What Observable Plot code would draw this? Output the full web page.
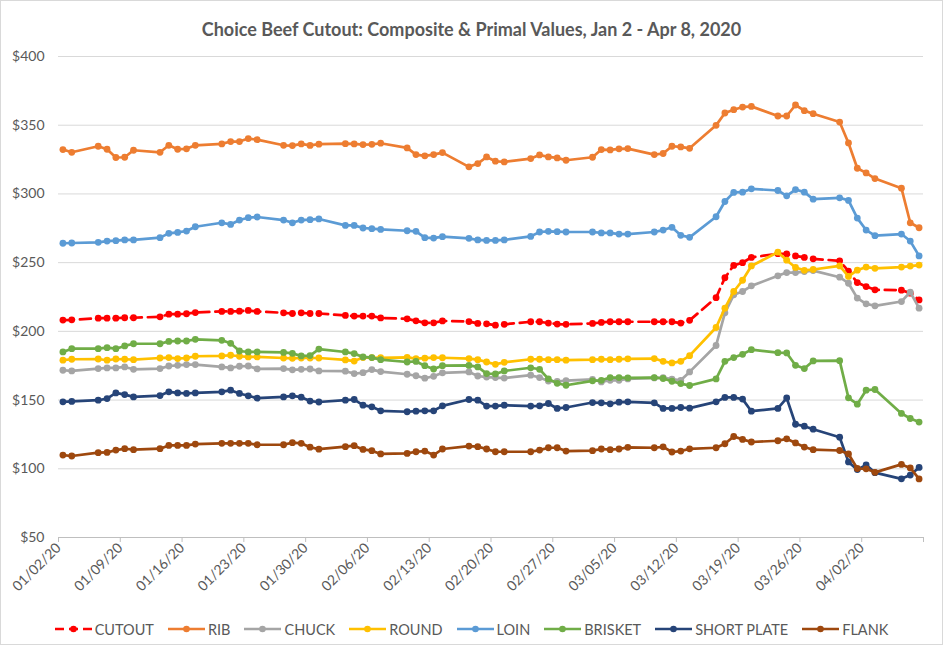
<!DOCTYPE html>
<html>
<head>
<meta charset="utf-8">
<script src="https://cdn.jsdelivr.net/npm/d3@7"></script>
<script src="https://cdn.jsdelivr.net/npm/@observablehq/plot@0.6"></script>
<style>
  html, body { margin: 0; padding: 0; background: #fff; }
  #chart { position: relative; width: 943px; height: 645px; box-sizing: border-box; border: 1px solid #d9d9d9; overflow: hidden; font-family: Lato, "Open Sans", sans-serif; color: #595959; }
  #title { height: 44px; box-sizing: border-box; padding-top: 17px; line-height: 22px; text-align: center; font-size: 18px; font-weight: 700; color: #595959; }
  #plot svg { display: block; }
  #legend { height: 44px; box-sizing: border-box; padding-top: 14px; display: flex; justify-content: center; align-items: center; gap: 0; font-size: 14.5px; color: #595959; }
  .item { display: flex; align-items: center; margin: 0 7px; }
  .item svg { margin-right: 3px; }
</style>
</head>
<body>
<div id="chart">
  <div id="title">Choice Beef Cutout: Composite &amp; Primal Values, Jan 2 - Apr 8, 2020</div>
  <div id="plot"></div>
  <div id="legend"></div>
</div>
<script>
// ---- data ----
const dates = [
  "2020-01-02","2020-01-03","2020-01-06","2020-01-07","2020-01-08","2020-01-09","2020-01-10",
  "2020-01-13","2020-01-14","2020-01-15","2020-01-16","2020-01-17","2020-01-20","2020-01-21",
  "2020-01-22","2020-01-23","2020-01-24","2020-01-27","2020-01-28","2020-01-29","2020-01-30","2020-01-31",
  "2020-02-03","2020-02-04","2020-02-05","2020-02-06","2020-02-07","2020-02-10","2020-02-11",
  "2020-02-12","2020-02-13","2020-02-14","2020-02-17","2020-02-18","2020-02-19","2020-02-20",
  "2020-02-21","2020-02-24","2020-02-25","2020-02-26","2020-02-27","2020-02-28",
  "2020-03-02","2020-03-03","2020-03-04","2020-03-05","2020-03-06","2020-03-09","2020-03-10",
  "2020-03-11","2020-03-12","2020-03-13","2020-03-16","2020-03-17","2020-03-18","2020-03-19",
  "2020-03-20","2020-03-23","2020-03-24","2020-03-25","2020-03-26","2020-03-27","2020-03-30","2020-03-31",
  "2020-04-01","2020-04-02","2020-04-03","2020-04-06","2020-04-07","2020-04-08"
];

const CUTOUT = [
  208.2,208.4,209.6,209.6,209.6,209.9,209.9,210.6,212.5,212.5,212.8,213.7,214.5,214.5,214.7,215.2,214.5,213.5,213.0,213.5,213.0,213.0,
  211.6,211.1,211.1,211.1,209.8,209.1,207.7,206.2,206.2,207.6,207.1,205.8,205.5,204.5,205.1,207.0,207.0,206.0,205.3,205.1,
  205.8,206.5,207.0,207.0,207.0,207.0,207.0,207.0,206.0,208.0,224.5,239.0,248.0,250.0,253.8,256.5,256.3,254.9,253.8,252.8,251.3,243.8,
  235.5,232.6,230.2,230.0,227.8,222.9
];
const RIB = [
  332.3,330.3,334.7,332.5,326.5,326.7,331.8,330.3,335.4,332.5,332.8,335.4,336.4,338.1,338.1,340.3,339.5,335.4,335.2,336.4,335.3,336.2,
  336.6,336.4,335.9,336.1,336.9,333.5,328.6,327.7,328.6,330.1,319.7,322.1,326.9,323.8,323.3,325.7,328.4,326.9,326.2,324.5,
  326.7,332.3,332.0,332.8,333.0,328.6,329.4,334.7,334.2,333.2,349.9,358.9,361.3,363.2,363.7,356.7,356.7,364.7,360.6,358.4,352.3,337.1,
  318.7,315.3,311.2,304.2,279.0,275.4
];
const CHUCK = [
  171.7,171.2,172.9,173.4,173.4,174.1,172.4,172.9,174.8,175.3,175.8,175.8,174.1,173.4,174.6,174.8,172.7,172.9,172.0,172.4,172.6,171.2,
  171.0,169.3,169.9,172.2,170.7,168.8,167.7,165.9,167.3,169.8,170.5,167.5,166.7,166.4,166.0,168.1,166.4,163.8,163.5,164.2,
  165.1,163.2,164.4,164.4,165.4,166.1,166.4,165.2,164.4,170.5,189.7,213.5,226.6,229.0,233.1,240.4,242.8,242.8,243.5,244.2,239.4,235.0,
  224.2,220.0,218.6,221.7,228.5,216.9
];
const ROUND = [
  179.0,179.7,179.9,179.0,179.9,179.7,179.4,180.6,180.9,180.2,180.6,181.9,182.1,182.6,181.9,181.4,181.4,180.6,180.4,180.6,180.6,180.6,
  179.2,178.4,180.9,180.9,180.8,181.1,180.2,180.5,180.9,180.8,180.2,179.4,177.7,176.0,177.5,179.7,179.7,179.4,179.4,179.0,
  179.4,179.7,179.4,179.7,180.0,180.2,178.2,177.0,178.2,182.3,202.8,216.9,229.0,237.2,247.6,257.6,251.8,246.5,244.4,245.0,247.6,240.0,
  244.5,246.8,245.9,246.8,247.5,248.2
];
const LOIN = [
  264.1,264.3,264.8,265.7,266.0,266.5,266.5,268.2,271.3,272.0,273.0,276.1,279.0,277.8,281.0,282.7,283.2,281.0,279.0,281.0,281.3,281.8,
  277.1,277.1,275.2,274.7,274.2,273.2,272.8,268.2,267.9,268.9,267.7,266.5,266.2,266.2,266.5,269.1,272.3,272.8,272.5,272.3,
  272.3,271.6,271.6,270.8,270.8,272.3,273.7,275.7,269.9,268.4,283.4,294.5,301.1,301.3,303.7,302.5,298.6,303.2,301.3,296.2,297.2,295.3,
  282.4,273.7,269.6,270.8,265.7,254.9
];
const BRISKET = [
  185.0,187.4,187.4,188.1,187.4,189.4,191.0,191.0,192.7,193.0,193.0,194.2,193.5,191.3,185.7,185.0,185.0,184.7,184.0,182.1,182.4,187.1,
  185.0,183.8,181.4,180.9,179.4,177.7,178.1,175.0,172.6,175.0,175.2,174.1,169.3,169.0,171.2,173.5,172.4,165.4,162.2,160.8,
  164.0,164.4,166.4,166.4,166.2,166.4,165.7,163.7,162.0,160.6,165.4,178.2,180.9,183.3,186.7,184.5,184.3,175.3,172.9,178.5,178.7,151.6,
  147.0,157.2,157.7,140.3,136.6,134.0
];
const SHORT_PLATE = [
  148.7,149.0,149.9,151.1,155.2,154.0,152.3,153.3,156.0,155.2,154.8,155.2,156.0,157.2,154.8,153.1,151.4,152.3,153.1,152.1,149.3,148.6,
  149.9,150.4,146.3,145.1,142.2,141.5,141.9,142.2,142.2,145.8,150.4,149.9,145.6,145.6,146.3,145.6,145.8,147.5,143.9,144.6,
  148.2,148.0,147.3,148.5,148.7,148.0,143.9,143.9,144.6,144.1,148.7,151.9,151.9,150.7,141.9,143.9,151.5,132.4,131.0,128.8,123.0,105.0,
  99.4,102.8,97.2,92.7,95.4,101.0
];
const FLANK = [
  110.0,109.3,111.7,111.9,113.6,114.6,113.9,114.6,117.0,117.0,117.0,118.0,118.5,118.5,118.5,118.5,117.5,117.5,119.0,118.5,115.7,114.3,
  116.1,116.8,114.1,113.2,110.8,111.2,112.4,112.9,110.0,114.4,116.5,116.1,114.4,112.4,112.4,112.4,113.6,115.3,115.3,112.9,
  113.2,114.4,113.9,114.4,115.6,115.3,116.0,112.2,112.9,114.5,115.3,118.2,123.5,121.4,119.5,120.4,121.8,118.8,115.8,113.9,113.3,110.8,
  100.2,100.0,97.4,103.2,100.6,92.6
];

const seriesNames = ["CUTOUT","RIB","CHUCK","ROUND","LOIN","BRISKET","SHORT PLATE","FLANK"];
const seriesColors = ["#FF0000","#ED7D31","#A5A5A5","#FFC000","#5B9BD5","#70AD47","#264478","#9E480E"];
const seriesValues = [CUTOUT, RIB, CHUCK, ROUND, LOIN, BRISKET, SHORT_PLATE, FLANK];
const dashedSeries = ["CUTOUT"];

const xTickLabels = ["01/02/20","01/09/20","01/16/20","01/23/20","01/30/20","02/06/20","02/13/20",
  "02/20/20","02/27/20","03/05/20","03/12/20","03/19/20","03/26/20","04/02/20"];
const xAxisEnd = "04/09/20";
const yTicks = [50,100,150,200,250,300,350,400];

// ---- build ----
const parseDay = d3.utcParse("%Y-%m-%d");
const parseTick = d3.utcParse("%m/%d/%y");
const fmtTick = d3.utcFormat("%m/%d/%y");
const tickDates = xTickLabels.map(parseTick);
const endDate = parseTick(xAxisEnd);
const labelSet = new Set(xTickLabels);

const rows = seriesNames.flatMap((name, i) =>
  dates.map((d, j) => ({ name, date: d3.utcHour.offset(parseDay(d), 12), value: seriesValues[i][j] }))
);

const marks = [
  Plot.ruleY(yTicks.filter(v => v > 50), { stroke: "#d9d9d9", strokeWidth: 1 }),
  Plot.ruleY([50], { stroke: "#bfbfbf", strokeWidth: 1 }),
  Plot.axisX({
    ticks: [...tickDates, endDate],
    tickFormat: d => { const s = fmtTick(d); return labelSet.has(s) ? s : ""; },
    tickRotate: -45, tickSize: 5, tickPadding: 3, fontSize: 14, stroke: "#bfbfbf", label: null
  }),
  Plot.axisY({
    ticks: yTicks, tickFormat: d => "$" + d, tickSize: 0, tickPadding: 14, fontSize: 14, label: null
  })
];

seriesNames.forEach((name, i) => {
  const data = rows.filter(r => r.name === name);
  marks.push(Plot.line(data, {
    x: "date", y: "value", stroke: seriesColors[i], strokeWidth: 2.7,
    strokeDasharray: dashedSeries.includes(name) ? "11,6" : null
  }));
  marks.push(Plot.dot(data, { x: "date", y: "value", r: 3.4, fill: seriesColors[i], stroke: null }));
});

const chart = Plot.plot({
  width: 941,
  height: 555,
  marginTop: 11,
  marginBottom: 63,
  marginLeft: 57,
  marginRight: 19,
  style: { fontFamily: "Lato, 'Open Sans', sans-serif", color: "#595959", background: "transparent" },
  x: { type: "utc", domain: [tickDates[0], endDate] },
  y: { domain: [50, 400] },
  marks
});
document.getElementById("plot").appendChild(chart);

// ---- legend ----
const legend = d3.select("#legend");
seriesNames.forEach((name, i) => {
  const item = legend.append("div").attr("class", "item");
  const s = item.append("svg").attr("width", 37).attr("height", 10);
  s.append("line").attr("x1", 0).attr("x2", 37).attr("y1", 5).attr("y2", 5)
    .attr("stroke", seriesColors[i]).attr("stroke-width", 2.6)
    .attr("stroke-dasharray", dashedSeries.includes(name) ? "9,5" : null);
  s.append("circle").attr("cx", 18.5).attr("cy", 5).attr("r", 3.3).attr("fill", seriesColors[i]);
  item.append("span").text(name);
});
</script>
</body>
</html>
